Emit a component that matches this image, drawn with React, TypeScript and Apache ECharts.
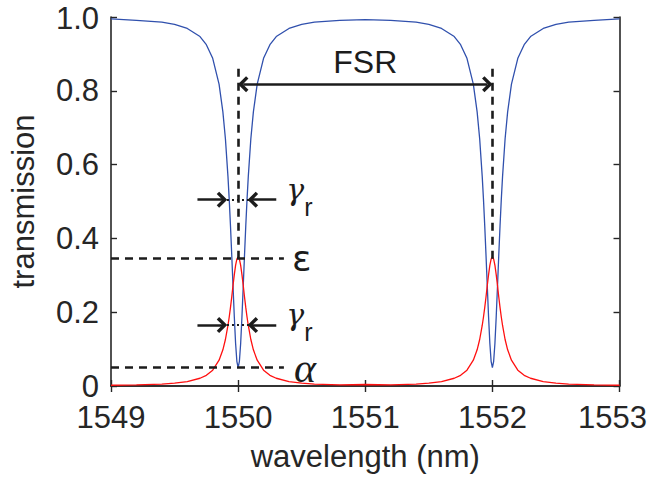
import React, { useEffect, useRef } from 'react';
import * as echarts from 'echarts';

// ---- data ----
const wavelength = [
  1549, 1549.2, 1549.4, 1549.5, 1549.6, 1549.7, 1549.75, 1549.8, 1549.85, 1549.88, 1549.9, 1549.92, 1549.93, 1549.94, 1549.95, 1549.96, 1549.97, 1549.98, 1549.99,
  1550,
  1550.01, 1550.02, 1550.03, 1550.04, 1550.05, 1550.06, 1550.07, 1550.08, 1550.1, 1550.12, 1550.15, 1550.2, 1550.25, 1550.3, 1550.4, 1550.5, 1550.6, 1550.8,
  1551,
  1551.2, 1551.4, 1551.5, 1551.6, 1551.7, 1551.75, 1551.8, 1551.85, 1551.88, 1551.9, 1551.92, 1551.93, 1551.94, 1551.95, 1551.96, 1551.97, 1551.98, 1551.99,
  1552,
  1552.01, 1552.02, 1552.03, 1552.04, 1552.05, 1552.06, 1552.07, 1552.08, 1552.1, 1552.12, 1552.15, 1552.2, 1552.25, 1552.3, 1552.4, 1552.5, 1552.6, 1552.8,
  1553,
];

const throughPort = [
  0.995, 0.991, 0.986, 0.98, 0.969, 0.947, 0.925, 0.888, 0.818, 0.743, 0.67, 0.568, 0.505, 0.433, 0.353, 0.269, 0.187, 0.116, 0.067,
  0.05,
  0.067, 0.116, 0.187, 0.269, 0.353, 0.433, 0.505, 0.568, 0.67, 0.743, 0.818, 0.888, 0.925, 0.947, 0.969, 0.98, 0.986, 0.991,
  0.993,
  0.991, 0.986, 0.98, 0.969, 0.947, 0.925, 0.888, 0.818, 0.743, 0.67, 0.568, 0.505, 0.433, 0.353, 0.269, 0.187, 0.116, 0.067,
  0.05,
  0.067, 0.116, 0.187, 0.269, 0.353, 0.433, 0.505, 0.568, 0.67, 0.743, 0.818, 0.888, 0.925, 0.947, 0.969, 0.98, 0.986, 0.991,
  0.995,
];

const dropPort = [
  0.002, 0.003, 0.005, 0.008, 0.012, 0.021, 0.029, 0.043, 0.07, 0.098, 0.126, 0.164, 0.187, 0.213, 0.242, 0.273, 0.302, 0.327, 0.344,
  0.35,
  0.344, 0.327, 0.302, 0.273, 0.242, 0.213, 0.187, 0.164, 0.126, 0.098, 0.07, 0.043, 0.029, 0.021, 0.012, 0.008, 0.005, 0.003,
  0.004,
  0.003, 0.005, 0.008, 0.012, 0.021, 0.029, 0.043, 0.07, 0.098, 0.126, 0.164, 0.187, 0.213, 0.242, 0.273, 0.302, 0.327, 0.344,
  0.35,
  0.344, 0.327, 0.302, 0.273, 0.242, 0.213, 0.187, 0.164, 0.126, 0.098, 0.07, 0.043, 0.029, 0.021, 0.012, 0.008, 0.005, 0.003,
  0.002,
];

const xTickLabels = ['1549', '1550', '1551', '1552', '1553'];
const yTickLabels = ['0', '0.2', '0.4', '0.6', '0.8', '1.0'];

// annotation values (data units)
const resonances = [1550, 1552];
const epsilonLevel = 0.345;
const alphaLevel = 0.05;
const gammaLevels = [0.505, 0.165];
const fsrLevel = 0.818;
const markerTop = 0.865;
const guideEnd = 1550.36;
const gammaTailLeft = 1549.68;
const gammaTipLeft = 1549.873;
const gammaTipRight = 1550.116;
const gammaTailRight = 1550.3;
const fsrStart = 1550.04;
const fsrEnd = 1551.96;

const INK = '#1c1c1c';
const AXIS = '#262626';
const SANS = '"Liberation Sans", Arial, Helvetica, sans-serif';
const SERIF = '"Liberation Serif", "Times New Roman", serif';
const GREEK_SERIF = '"DejaVu Serif", "Liberation Serif", serif';
const CHEVRON = 'path://M10,0 L20,10 L17,13 L10,6 L3,13 L0,10 Z';
const HEAD_SIZE = [16, 10.5];

const dashed = { type: [8, 6], width: 2.6, color: INK };
const solid = { type: 'solid', width: 2.5, color: INK };
const dotted = { type: [2, 3], width: 2, color: INK };

const gammaLabel = {
  show: true,
  position: 'end',
  distance: 10,
  padding: [0, 0, 6, 0],
  formatter: '{g|γ}{s|r}',
  rich: {
    g: { fontFamily: GREEK_SERIF, fontStyle: 'italic', fontSize: 30, color: INK, verticalAlign: 'top', lineHeight: 34 },
    s: { fontFamily: SANS, fontSize: 25, color: INK, verticalAlign: 'top', lineHeight: 45, padding: [20, 0, 0, 0] },
  },
};

function buildOption() {
  const xMin = 1549;
  const xMax = 1553;
  const through = wavelength.map((w, i) => [w, throughPort[i]]);
  const drop = wavelength.map((w, i) => [w, dropPort[i]]);

  const lines: any[] = [
    [
      { coord: [xMin, epsilonLevel], lineStyle: dashed, symbol: 'none' },
      {
        coord: [guideEnd, epsilonLevel],
        symbol: 'none',
        label: { show: true, position: 'end', distance: 8, formatter: 'ε', fontFamily: '"DejaVu Sans", sans-serif', fontSize: 36, color: INK, padding: [0, 0, 3, 0] },
      },
    ],
    [
      { coord: [xMin, alphaLevel], lineStyle: dashed, symbol: 'none' },
      {
        coord: [guideEnd, alphaLevel],
        symbol: 'none',
        label: { show: true, position: 'end', distance: 10, formatter: 'α', fontFamily: SERIF, fontStyle: 'italic', fontSize: 42, color: INK, padding: [0, 0, 5, 0] },
      },
    ],
    ...resonances.map((r) => [
      { coord: [r, epsilonLevel], lineStyle: dashed, symbol: 'none' },
      { coord: [r, markerTop], symbol: 'none' },
    ]),
    [
      { coord: [fsrStart, fsrLevel], lineStyle: solid, symbol: CHEVRON, symbolSize: HEAD_SIZE },
      {
        coord: [fsrEnd, fsrLevel],
        symbol: CHEVRON,
        symbolSize: HEAD_SIZE,
        label: { show: true, position: 'insideMiddleTop', distance: 6, formatter: 'FSR', fontFamily: SANS, fontSize: 32, color: INK },
      },
    ],
  ];
  gammaLevels.forEach((level) => {
    lines.push([
      { coord: [gammaTipLeft, level], lineStyle: dotted, symbol: 'none' },
      { coord: [gammaTipRight, level], symbol: 'none' },
    ]);
    lines.push([
      { coord: [gammaTailLeft, level], lineStyle: solid, symbol: 'none' },
      { coord: [gammaTipLeft, level], symbol: CHEVRON, symbolSize: HEAD_SIZE },
    ]);
    lines.push([
      { coord: [gammaTipRight, level], lineStyle: solid, symbol: CHEVRON, symbolSize: HEAD_SIZE },
      { coord: [gammaTailRight, level], symbol: 'none', label: gammaLabel },
    ]);
  });

  const axisLine = { show: true, lineStyle: { color: AXIS, width: 1.6 } };
  const tick = { show: true, inside: true, length: 6, lineStyle: { color: AXIS, width: 1.4 } };

  return {
    animation: false,
    backgroundColor: '#ffffff',
    grid: { left: 111, right: 30, top: 11, bottom: 87, containLabel: false },
    xAxis: [
      {
        type: 'value',
        min: xMin,
        max: xMax,
        interval: 1,
        axisLine,
        axisTick: tick,
        splitLine: { show: false },
        axisLabel: {
          margin: 16,
          color: AXIS,
          fontFamily: SANS,
          fontSize: 31,
          formatter: (v: number) => {
            const idx = Math.round(v - xMin);
            const txt = xTickLabels[idx];
            return idx === xTickLabels.length - 1 ? `{last|${txt}}` : txt;
          },
          rich: { last: { fontFamily: SANS, fontSize: 31, color: AXIS, padding: [0, 14, 0, 0] } },
        },
        name: 'wavelength (nm)',
        nameLocation: 'middle',
        nameGap: 55,
        nameTextStyle: { color: AXIS, fontFamily: SANS, fontSize: 31 },
      },
      {
        type: 'value',
        position: 'top',
        min: xMin,
        max: xMax,
        interval: 1,
        axisLine,
        axisTick: tick,
        axisLabel: { show: false },
        splitLine: { show: false },
      },
    ],
    yAxis: [
      {
        type: 'value',
        min: 0,
        max: 1,
        interval: 0.2,
        axisLine,
        axisTick: tick,
        splitLine: { show: false },
        axisLabel: {
          margin: 12,
          color: AXIS,
          fontFamily: SANS,
          fontSize: 31,
          formatter: (v: number) => {
            const idx = Math.round(v / 0.2);
            return idx === yTickLabels.length - 1 ? `{top|${yTickLabels[idx]}}` : yTickLabels[idx];
          },
          rich: { top: { fontFamily: SANS, fontSize: 31, color: AXIS, lineHeight: 20, padding: [3, 0, 0, 0] } },
        },
        name: 'transmission',
        nameLocation: 'middle',
        nameGap: 72,
        nameTextStyle: { color: AXIS, fontFamily: SANS, fontSize: 31 },
      },
      {
        type: 'value',
        position: 'right',
        min: 0,
        max: 1,
        interval: 0.2,
        axisLine,
        axisTick: tick,
        axisLabel: { show: false },
        splitLine: { show: false },
      },
    ],
    series: [
      {
        name: 'through',
        type: 'line',
        data: through,
        showSymbol: false,
        symbol: 'none',
        lineStyle: { color: '#3050ad', width: 1.3 },
        itemStyle: { color: '#3050ad' },
        z: 2,
      },
      {
        name: 'drop',
        type: 'line',
        data: drop,
        showSymbol: false,
        symbol: 'none',
        lineStyle: { color: '#ff1010', width: 1.3 },
        itemStyle: { color: '#ff1010' },
        z: 3,
      },
      {
        name: 'annotations',
        type: 'line',
        data: [],
        color: INK,
        z: 5,
        markLine: {
          silent: true,
          animation: false,
          symbol: 'none',
          label: { show: false },
          lineStyle: solid,
          data: lines,
        },
      },
    ],
  };
}

export default function App() {
  const ref = useRef<HTMLDivElement>(null);
  useEffect(() => {
    if (!ref.current) return;
    const chart = echarts.init(ref.current, null, { renderer: 'svg' });
    chart.setOption(buildOption() as any);
    return () => chart.dispose();
  }, []);
  return (
    <div
      ref={ref}
      style={{ position: 'fixed', left: 0, top: 0, width: 650, height: 477, background: '#fff' }}
    />
  );
}
